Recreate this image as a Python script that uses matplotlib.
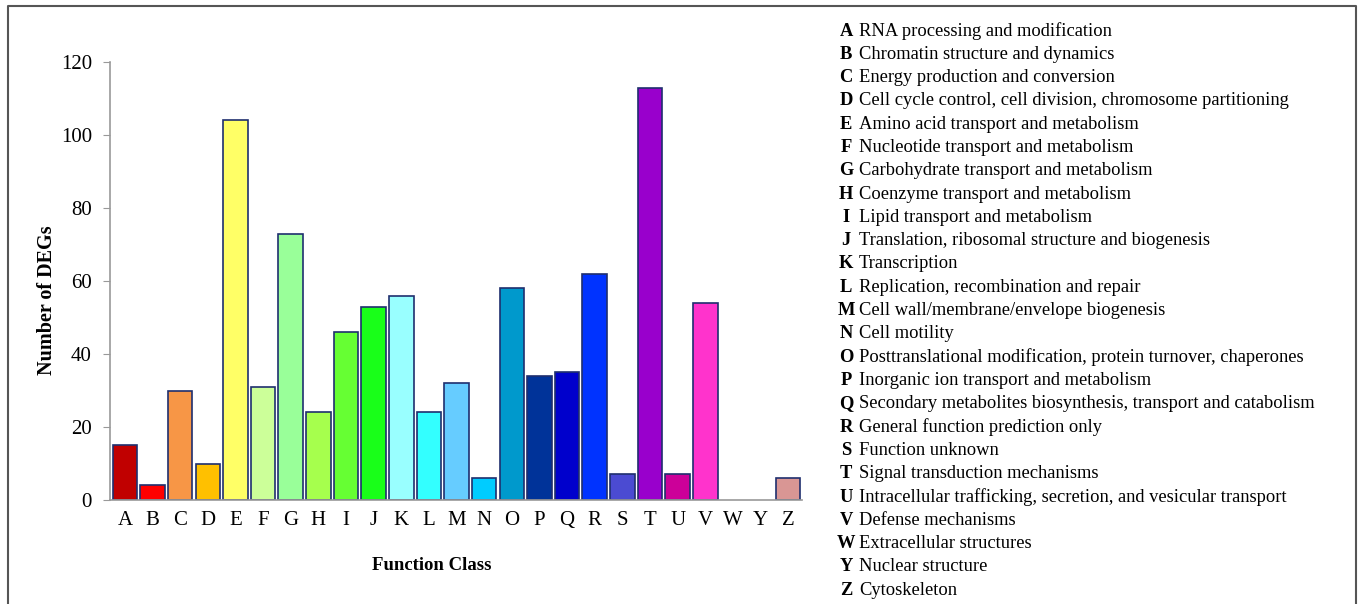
import matplotlib
matplotlib.use("Agg")
import matplotlib.pyplot as plt
from matplotlib.lines import Line2D

plt.rcParams["font.family"] = ["Liberation Serif", "DejaVu Serif"]

# COG function classes
classes = ["A", "B", "C", "D", "E", "F", "G", "H", "I", "J", "K", "L", "M",
           "N", "O", "P", "Q", "R", "S", "T", "U", "V", "W", "Y", "Z"]
counts = [15, 4, 30, 10, 104, 31, 73, 24, 46, 53, 56, 24, 32,
          6, 58, 34, 35, 62, 7, 113, 7, 54, 0, 0, 6]
colors = ["#C00000", "#FF0000", "#F79646", "#FFC000", "#FFFF66", "#CCFF99",
          "#99FF99", "#A6FF4D", "#66FF33", "#19FF19", "#99FFFF", "#33FFFF",
          "#66CCFF", "#00CCFF", "#0099CC", "#003399", "#0000CC", "#0033FF",
          "#4B4BD2", "#9900CC", "#CC0099", "#FF33CC", "#FFFFFF", "#FFFFFF",
          "#D99694"]
descriptions = [
    "RNA processing and modification",
    "Chromatin structure and dynamics",
    "Energy production and conversion",
    "Cell cycle control, cell division, chromosome partitioning",
    "Amino acid transport and metabolism",
    "Nucleotide transport and metabolism",
    "Carbohydrate transport and metabolism",
    "Coenzyme transport and metabolism",
    "Lipid transport and metabolism",
    "Translation, ribosomal structure and biogenesis",
    "Transcription",
    "Replication, recombination and repair",
    "Cell wall/membrane/envelope biogenesis",
    "Cell motility",
    "Posttranslational modification, protein turnover, chaperones",
    "Inorganic ion transport and metabolism",
    "Secondary metabolites biosynthesis, transport and catabolism",
    "General function prediction only",
    "Function unknown",
    "Signal transduction mechanisms",
    "Intracellular trafficking, secretion, and vesicular transport",
    "Defense mechanisms",
    "Extracellular structures",
    "Nuclear structure",
    "Cytoskeleton",
]

W, H = 1360, 604
fig = plt.figure(figsize=(W / 100, H / 100), dpi=100)
ax = fig.add_axes([110 / W, 1 - 500 / H, 692 / W, 438 / H])

x = range(len(classes))
# empty classes get no outline
lw = [1.2 if v > 0 else 0 for v in counts]
ax.bar(x, counts, width=0.89, color=colors, edgecolor="#1F2F6E", linewidth=lw)
ax.set_xlim(-0.54, 24.5)
ax.set_ylim(0, 120)
ax.set_yticks(range(0, 121, 20))
ax.set_xticks(list(x))
ax.set_xticklabels(classes)

for side in ["top", "right"]:
    ax.spines[side].set_visible(False)
for side in ["left", "bottom"]:
    ax.spines[side].set_color("#999999")
    ax.spines[side].set_linewidth(1.2)
ax.tick_params(axis="y", length=5, color="#999999", labelsize=15, pad=8)
ax.tick_params(axis="x", length=0, labelsize=15, pad=8)

fig.text(47 / W, 1 - 300 / H, "Number of DEGs", rotation=90, fontsize=14.5,
         fontweight="bold", ha="center", va="center")
fig.text(432 / W, 1 - 565 / H, "Function Class", fontsize=13.5,
         fontweight="bold", ha="center", va="center")

# legend text on the right
for i, (c, d) in enumerate(zip(classes, descriptions)):
    y = 1 - (31 + i * 23.3) / H
    fig.text(846 / W, y, c, fontsize=13.3, fontweight="bold", ha="center", va="center")
    fig.text(859 / W, y, d, fontsize=13.3, ha="left", va="center")

# outer frame (bottom edge cut off)
fx = [8 / W, 8 / W, 1356 / W, 1356 / W]
fy = [0, 1 - 6 / H, 1 - 6 / H, 0]
fig.add_artist(Line2D(fx, fy, transform=fig.transFigure, color="#555555", linewidth=1.5))

fig.savefig("out.png", dpi=100)
